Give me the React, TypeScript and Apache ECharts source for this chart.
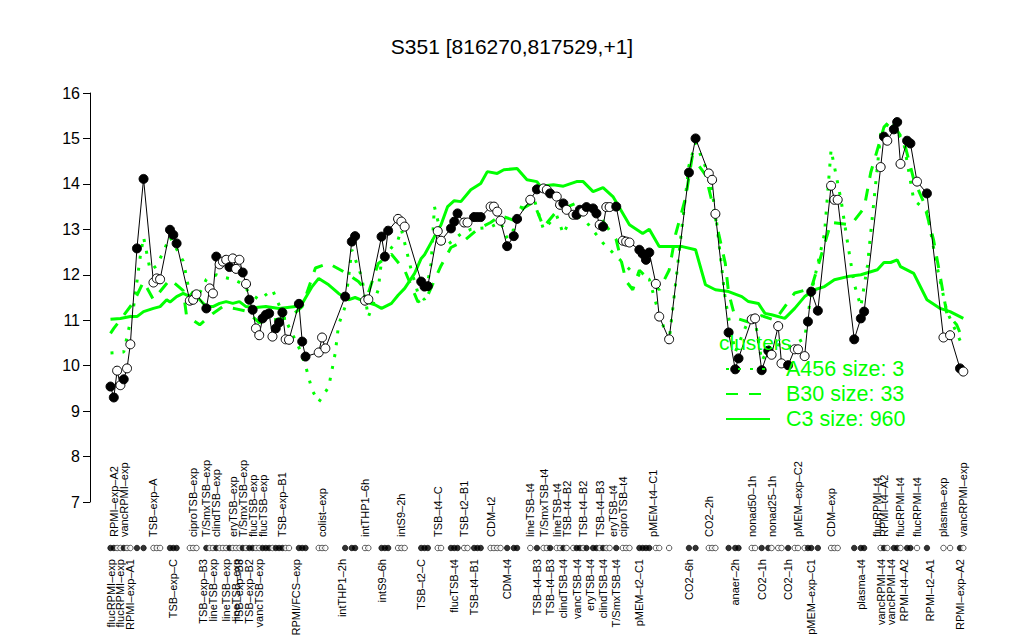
import React, { useEffect, useRef } from "react";
import * as echarts from "echarts";

// number of positions on the sample axis (groups separated by empty positions)
const SLOT_COUNT = 259;

// position of each sample on the axis
const sampleSlot = [
  0, 1, 2, 3, 4, 5, 6, 8, 10,
  13, 14, 15,
  18, 19, 20,
  24, 25, 26,
  29, 30, 31, 32, 33, 34, 35, 36, 37, 38, 39, 40, 41, 42, 43, 44, 45, 46, 47, 48, 49, 50, 51, 52,
  53, 54,
  57, 58, 59,
  63, 64, 65,
  71, 73, 74,
  77, 78,
  82, 83, 84,
  87, 88, 89,
  94, 95, 96,
  99, 100,
  103, 104, 105, 107, 108, 110, 111, 112,
  115, 116, 117, 118, 120, 122, 123,
  127,
  129, 131, 132, 133, 135, 136, 137, 138, 140, 141, 142, 143, 144, 146, 147, 148, 149, 150, 151, 153, 155, 156, 157,
  160, 161, 162, 163, 165, 166,
  169,
  175, 177,
  181, 182, 183,
  187, 189, 190,
  194, 195, 197, 199, 200, 202, 203, 205,
  207, 208, 210, 211, 212, 214,
  218, 219, 220,
  225, 227, 228,
  233, 234, 235, 237, 238, 239, 241, 242, 244,
  247,
  252, 254,
  257, 258,
];

// expression value of each sample
const expression = [
  9.54, 9.3, 9.89, 9.57, 9.7, 9.94, 10.47, 12.58, 14.11,
  11.83, 11.92, 11.9,
  12.99, 12.88, 12.69,
  11.43, 11.45, 11.57,
  11.26, 11.7, 11.59, 12.4, 12.23, 12.29, 12.33, 12.17, 12.36, 12.13, 12.33, 12.05, 11.8, 11.45, 11.23, 10.82, 10.67, 11.04, 11.12, 11.15, 10.64, 10.82, 10.95, 11.17,
  10.58, 10.57,
  11.36, 10.53, 10.2,
  10.29, 10.62, 10.38,
  11.52, 12.73, 12.85,
  11.43, 11.46,
  12.84, 12.4, 12.97,
  13.23, 13.17, 13.06,
  11.85, 11.74, 11.75,
  12.96, 12.75,
  13.02, 13.17, 13.35, 13.15, 13.15, 13.27, 13.27, 13.27,
  13.5, 13.5, 13.39, 13.19, 12.63, 12.85, 13.23,
  13.65,
  13.88, 13.9, 13.87, 13.79, 13.72, 13.54, 13.57, 13.43, 13.32, 13.32, 13.43, 13.39, 13.49, 13.46, 13.35, 13.1, 13.06, 13.49, 13.49, 13.5, 12.75, 12.73, 12.71,
  12.55, 12.46, 12.33, 12.49, 11.8, 11.08,
  10.58,
  14.25, 15.0,
  14.23, 14.09, 13.34,
  10.73, 9.92, 10.16,
  11.02, 11.04, 9.9, 10.33, 10.24, 10.87, 10.05, 10.01,
  10.36, 10.36, 10.21, 10.97, 11.63, 11.21,
  13.96, 13.65, 13.65,
  10.58, 11.04, 11.19,
  14.37, 15.04, 14.95, 15.2, 15.36, 14.44, 14.95, 14.89, 14.05,
  13.79,
  10.62, 10.67,
  9.94, 9.87,
];

// 1 = filled marker, 0 = open marker
const filled = [
  1, 1, 0, 0, 1, 0, 0, 1, 1,
  0, 0, 0,
  1, 1, 1,
  0, 0, 0,
  1, 0, 0, 1, 0, 0, 0, 1, 0, 0, 0, 1, 0, 1, 1, 0, 0, 1, 1, 1, 0, 1, 1, 1,
  0, 0,
  1, 1, 1,
  0, 0, 0,
  1, 1, 1,
  0, 0,
  1, 1, 1,
  0, 0, 0,
  1, 1, 1,
  0, 0,
  1, 1, 1, 0, 0, 1, 1, 1,
  0, 0, 0, 0, 1, 1, 1,
  0,
  1, 0, 0, 1, 0, 0, 1, 0, 0, 1, 1, 0, 1, 1, 1, 0, 1, 0, 0, 1, 0, 0, 0,
  1, 1, 1, 1, 0, 0,
  0,
  1, 1,
  0, 0, 0,
  1, 1, 1,
  0, 0, 1, 1, 0, 0, 0, 1,
  0, 0, 0, 1, 1, 1,
  0, 0, 0,
  1, 1, 1,
  0, 1, 0, 1, 1, 0, 1, 1, 0,
  1,
  0, 0,
  1, 0,
];

// sample names written above the condition strip
const topLabels: [number, string][] = [
  [1, "RPMI\u2013exp\u2013A2"], [4, "vancRPMI\u2013exp"], [13, "TSB\u2013exp\u2013A"], [25, "ciproTSB\u2013exp"],
  [29, "T/SmxTSB\u2013exp"], [32, "clindTSB\u2013exp"], [37, "eryTSB\u2013exp"], [40, "T/SmxTSB\u2013exp"],
  [43, "flucTSB\u2013exp"], [46, "flucTSB\u2013exp"], [52, "TSB\u2013exp\u2013B1"], [64, "colist\u2013exp"],
  [77, "intTHP1\u20136h"], [88, "intS9\u20132h"], [99, "TSB\u2013t4\u2013C"], [107, "TSB\u2013t2\u2013B1"],
  [115, "CDM\u2013t2"], [127, "lineTSB\u2013t4"], [131, "T/SmxTSB\u2013t4"], [135, "lineTSB\u2013t4"],
  [138, "TSB\u2013t4\u2013B2"], [143, "TSB\u2013t4\u2013B2"], [148, "TSB\u2013t4\u2013B3"], [152, "eryTSB\u2013t4"],
  [155, "ciproTSB\u2013t4"], [164, "pMEM\u2013t4\u2013C1"], [181, "CO2\u20132h"], [194, "nonad50\u20131h"],
  [200, "nonad25\u20131h"], [208, "pMEM\u2013exp\u2013C2"], [218, "CDM\u2013exp"], [232, "flucRPMI\u2013t4"],
  [234, "RPMI\u2013t4\u2013A2"], [239, "flucRPMI\u2013t4"], [244, "flucRPMI\u2013t4"], [252, "plasma\u2013exp"],
  [258, "vancRPMI\u2013exp"],
];

// sample names written below the condition strip
const bottomLabels: [number, string][] = [
  [0, "flucRPMI\u2013exp"], [3, "flucRPMI\u2013exp"], [6, "RPMI\u2013exp\u2013A1"], [19, "TSB\u2013exp\u2013C"],
  [28, "TSB\u2013exp\u2013B3"], [31, "lineTSB\u2013exp"], [35, "lineTSB\u2013exp"], [38, "lineTSB\u2013exp"],
  [39, "TSB\u2013exp\u2013B3"], [42, "TSB\u2013exp\u2013B2"], [45, "vancTSB\u2013exp"], [56, "RPMI/FCS\u2013exp"],
  [70, "intTHP1\u20132h"], [82, "intS9\u20136h"], [94, "TSB\u2013t2\u2013C"], [104, "flucTSB\u2013t4"],
  [110, "TSB\u2013t4\u2013B1"], [120, "CDM\u2013t4"], [129, "TSB\u2013t4\u2013B3"], [133, "TSB\u2013t4\u2013B3"],
  [137, "clindTSB\u2013t4"], [141, "vancTSB\u2013t4"], [145, "eryTSB\u2013t4"], [149, "clindTSB\u2013t4"],
  [153, "T/SmxTSB\u2013t4"], [160, "pMEM\u2013t2\u2013C1"], [175, "CO2\u20136h"], [189, "anaer\u20132h"],
  [197, "CO2\u20131h"], [205, "CO2\u20131h"], [212, "pMEM\u2013exp\u2013C1"], [227, "plasma\u2013t4"],
  [233, "vancRPMI\u2013t4"], [236, "vancRPMI\u2013t4"], [240, "RPMI\u2013t4\u2013A2"], [248, "RPMI\u2013t2\u2013A1"],
  [257, "RPMI\u2013exp\u2013A2"],
];

// cluster mean profiles: [axis position, value]
const clusterA456: [number, number][] = [
  [0, 10.28], [4, 10.3], [7, 11.3], [9, 12.4], [10, 12.83], [12, 12.1], [14, 12.2], [18, 12.83], [22, 12.3],
  [23, 11.95], [24, 11.55], [27, 11.6], [29, 11.9], [32, 12.0], [34, 11.95], [37, 11.9], [40, 11.8], [42, 11.6],
  [45, 11.45], [49, 11.67], [53, 11.0], [57, 10.4], [59, 10.0], [61, 9.46], [63, 9.2], [66, 9.53], [68, 10.28],
  [69, 10.9], [71, 11.3], [73, 12.55], [76, 11.95], [78, 11.07], [81, 11.67], [82, 12.33], [87, 12.77], [88, 13.0],
  [91, 12.1], [93, 11.6], [95, 11.45], [97, 12.25], [98, 13.5], [101, 12.6], [106, 12.9], [109, 13.0], [115, 13.05],
  [118, 13.16], [120, 12.8], [122, 13.0], [125, 13.65], [128, 13.7], [131, 13.0], [135, 13.3], [137, 12.9],
  [140, 13.36], [144, 13.16], [149, 12.7], [158, 12.05], [163, 11.9], [165, 11.38], [168, 10.7], [169, 10.55],
  [175, 14.4], [177, 14.9], [181, 14.2], [183, 13.4], [186, 11.45], [189, 10.3], [193, 11.0], [195, 11.0],
  [197, 10.1], [200, 10.5], [205, 10.4], [210, 10.6], [212, 11.6], [216, 12.9], [218, 14.75], [221, 13.65],
  [223, 12.7], [225, 11.8], [227, 11.3], [229, 12.2], [231, 13.65], [233, 15.1], [236, 15.4], [240, 14.9],
  [243, 13.65], [247, 13.4], [250, 12.2], [253, 11.2], [258, 10.4],
];
const clusterB30: [number, number][] = [
  [0, 10.71], [1, 10.82], [7, 11.4], [10, 11.85], [13, 11.45], [18, 11.9], [22, 11.65], [23, 11.1], [27, 10.9],
  [31, 11.15], [34, 11.3], [38, 11.25], [41, 11.2], [45, 10.95], [48, 11.0], [54, 11.05], [58, 11.3], [62, 12.15],
  [66, 12.25], [71, 12.05], [75, 11.85], [78, 11.6], [81, 12.25], [85, 12.45], [89, 12.1], [93, 11.4], [96, 11.55],
  [100, 12.2], [103, 12.6], [107, 12.75], [111, 13.0], [115, 13.15], [118, 13.3], [122, 13.2], [125, 13.47],
  [128, 13.6], [131, 13.05], [135, 13.4], [141, 13.58], [147, 13.38], [153, 12.77], [156, 11.86], [158, 11.67],
  [160, 12.1], [166, 11.67], [169, 12.1], [171, 12.9], [174, 13.7], [176, 14.6], [180, 14.2], [182, 13.6],
  [184, 12.9], [186, 12.25], [187, 11.6], [189, 11.05], [193, 10.96], [197, 11.1], [201, 11.0], [207, 11.6],
  [212, 11.7], [218, 13.15], [224, 13.1], [228, 13.47], [230, 14.25], [234, 15.25], [236, 15.4], [240, 14.95],
  [243, 14.1], [246, 13.6], [249, 12.77], [251, 11.97], [253, 11.15], [256, 10.9], [258, 10.55],
];
const clusterC3: [number, number][] = [
  [0, 11.02], [3, 11.04], [6, 11.08], [8, 11.08], [10, 11.19], [13, 11.26], [15, 11.3], [17, 11.45], [18, 11.4],
  [20, 11.52], [22, 11.59], [24, 11.52], [25, 11.63], [27, 11.45], [29, 11.3], [31, 11.3], [33, 11.37], [35, 11.41],
  [37, 11.37], [39, 11.41], [41, 11.3], [44, 11.28], [47, 11.3], [51, 11.26], [56, 11.3], [58, 11.37], [61, 11.74],
  [63, 11.92], [66, 11.78], [69, 11.59], [72, 11.45], [74, 11.5], [77, 11.41], [80, 11.34], [82, 11.26], [85, 11.37],
  [87, 11.55], [89, 11.7], [92, 12.03], [94, 12.36], [95, 12.44], [98, 12.84], [100, 13.1], [102, 13.5], [104, 13.63],
  [106, 13.61], [109, 13.87], [112, 14.01], [114, 14.27], [117, 14.23], [119, 14.31], [123, 14.34], [126, 14.09],
  [129, 14.05], [130, 13.95], [134, 13.98], [137, 13.95], [141, 14.05], [143, 14.05], [146, 13.83], [149, 13.92],
  [152, 13.72], [157, 13.1], [161, 12.91], [163, 13.0], [166, 12.62], [173, 12.62], [177, 12.55], [180, 11.78],
  [183, 11.67], [187, 11.63], [191, 11.52], [193, 11.41], [196, 11.37], [198, 11.15], [200, 11.12], [204, 11.04],
  [207, 11.26], [210, 11.52], [213, 11.67], [216, 11.74], [219, 11.89], [223, 11.96], [227, 12.0], [232, 12.11],
  [234, 12.27], [236, 12.27], [238, 12.33], [239, 12.18], [243, 12.03], [247, 11.45], [251, 11.26], [254, 11.19],
  [258, 11.04],
];

const clusterNames = ["A456 size: 3", "B30 size: 33", "C3 size: 960"];
const FONT = "'Liberation Sans', Arial, Helvetica, sans-serif";
const GREEN = "#00ff00";

export default function App() {
  const ref = useRef<HTMLDivElement>(null);

  useEffect(() => {
    if (!ref.current) return;
    const chart = echarts.init(ref.current, null, { renderer: "svg" });

    const slots = Array.from({ length: SLOT_COUNT }, (_, i) => String(i));
    const topText: string[] = slots.map(() => "");
    const bottomText: string[] = slots.map(() => "");
    topLabels.forEach(([s, t]) => (topText[s] = t));
    bottomLabels.forEach(([s, t]) => (bottomText[s] = t));

    const n = Math.min(sampleSlot.length, expression.length, filled.length);
    const points = [];
    const strip = [];
    for (let i = 0; i < n; i++) {
      const color = filled[i] ? "#000000" : "#ffffff";
      points.push({ value: [sampleSlot[i], expression[i]], itemStyle: { color } });
      strip.push({ value: [sampleSlot[i], 0], itemStyle: { color } });
    }

    const labelAxis = (pos: "top" | "bottom", texts: string[]) => ({
      type: "category",
      gridIndex: 1,
      data: slots,
      boundaryGap: false,
      position: pos,
      axisLine: { show: false },
      axisTick: { show: false },
      axisLabel: {
        interval: 0,
        rotate: 90,
        margin: 3,
        fontSize: 11,
        fontFamily: FONT,
        color: "#000",
        formatter: (_v: string, idx: number) => texts[idx],
      },
    });

    chart.setOption({
      animation: false,
      textStyle: { fontFamily: FONT },
      title: [
        {
          text: "S351 [816270,817529,+1]",
          left: "center",
          top: 36,
          padding: 0,
          textStyle: { fontSize: 21, fontWeight: "normal", color: "#000", fontFamily: FONT },
        },
        {
          text: "clusters",
          left: 719,
          top: 332,
          padding: 0,
          textStyle: { fontSize: 21, fontWeight: "normal", color: GREEN, fontFamily: FONT },
        },
      ],
      legend: {
        data: clusterNames,
        orient: "vertical",
        left: 725,
        top: 358,
        padding: 0,
        itemWidth: 44,
        itemHeight: 14,
        itemGap: 3,
        itemStyle: { opacity: 0 },
        textStyle: { fontSize: 21.5, color: GREEN, fontFamily: FONT, padding: [0, 0, 0, 11] },
        selectedMode: false,
      },
      grid: [
        { left: 110.5, right: 60.7, top: 93, height: 409 },
        { left: 110.5, right: 60.7, top: 540, height: 16 },
      ],
      xAxis: [
        { type: "category", gridIndex: 0, data: slots, boundaryGap: false, show: false },
        labelAxis("top", topText),
        labelAxis("bottom", bottomText),
      ],
      yAxis: [
        {
          type: "value",
          gridIndex: 0,
          min: 7,
          max: 16,
          interval: 1,
          offset: 20.5,
          axisLine: { show: true, lineStyle: { color: "#000", width: 1 } },
          axisTick: { show: true, length: 7, lineStyle: { color: "#000", width: 1 } },
          axisLabel: { fontSize: 16, color: "#000", margin: 10, fontFamily: FONT },
          splitLine: { show: false },
        },
        { type: "value", gridIndex: 1, min: -1, max: 1, show: false },
      ],
      series: [
        {
          name: clusterNames[0],
          type: "line",
          xAxisIndex: 0,
          yAxisIndex: 0,
          data: clusterA456,
          symbol: "none",
          connectNulls: true,
          lineStyle: { color: GREEN, width: 3, type: [3, 9] },
          itemStyle: { color: GREEN },
          z: 2,
        },
        {
          name: clusterNames[1],
          type: "line",
          xAxisIndex: 0,
          yAxisIndex: 0,
          data: clusterB30,
          symbol: "none",
          connectNulls: true,
          lineStyle: { color: GREEN, width: 3, type: [12, 11] },
          itemStyle: { color: GREEN },
          z: 2,
        },
        {
          name: clusterNames[2],
          type: "line",
          xAxisIndex: 0,
          yAxisIndex: 0,
          data: clusterC3,
          symbol: "none",
          connectNulls: true,
          lineStyle: { color: GREEN, width: 3 },
          itemStyle: { color: GREEN },
          z: 2,
        },
        {
          name: "S351",
          type: "line",
          xAxisIndex: 0,
          yAxisIndex: 0,
          data: points,
          symbol: "circle",
          symbolSize: 9,
          showAllSymbol: true,
          clip: false,
          lineStyle: { color: "#000", width: 1 },
          itemStyle: { borderColor: "#000", borderWidth: 1 },
          z: 3,
        },
        {
          name: "strip",
          type: "scatter",
          xAxisIndex: 1,
          yAxisIndex: 1,
          data: strip,
          symbol: "circle",
          symbolSize: 5.5,
          itemStyle: { borderColor: "#000", borderWidth: 0.8 },
        },
      ],
    });

    return () => chart.dispose();
  }, []);

  return (
    <div
      ref={ref}
      style={{ position: "fixed", left: 0, top: 0, width: 1024, height: 640, background: "#fff" }}
    />
  );
}
